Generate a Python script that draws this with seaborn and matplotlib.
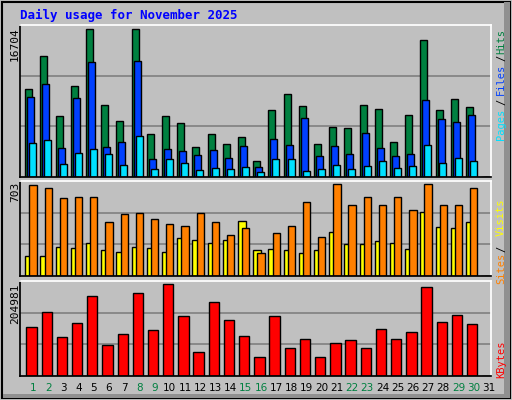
import numpy as np
import pandas as pd
import matplotlib.pyplot as plt
import seaborn as sns
from matplotlib.patches import Rectangle

sns.set_theme(style="white")
plt.rcParams['font.family'] = ['DejaVu Sans Mono', 'DejaVu Sans']

days = list(range(1, 32))
hits = [10014, 13642, 6953, 10354, 16704, 8200, 6387, 16704, 4913, 6953, 6160, 3439, 4913, 3779, 4573, 1852,
        7634, 9448, 8087, 3779, 5706, 5593, 8200, 7747, 4006, 7067, 15456, 7634, 8881, 7974, 0]
files = [9107, 10581, 3326, 8994, 12962, 3439, 4006, 13075, 2078, 3212, 2985, 2532, 3099, 2192, 3552, 1171,
         4346, 3666, 6727, 2419, 3552, 2645, 5026, 3326, 2419, 2645, 8767, 6613, 6273, 7067, 0]
pages = [3892, 4232, 1512, 2759, 3212, 2645, 1398, 4686, 945, 2078, 1625, 831, 1058, 945, 1171, 605,
         2078, 2078, 718, 945, 1398, 945, 1285, 1852, 1058, 1285, 3666, 1625, 2192, 1852, 0]
sites = [695, 672, 596, 604, 604, 413, 474, 481, 436, 397, 382, 481, 413, 313, 367, 176,
         329, 382, 565, 298, 703, 543, 604, 543, 604, 504, 703, 543, 543, 672, 0]
visits = [153, 153, 222, 214, 252, 199, 183, 222, 214, 183, 290, 275, 252, 275, 420, 199,
          206, 199, 176, 199, 336, 245, 245, 267, 252, 206, 489, 374, 367, 413, 0]
kbytes = [108115, 141901, 85591, 117125, 177940, 69824, 92348, 184697, 101358, 204981, 132892, 54058,
          164425, 123882, 87844, 42796, 132892, 63067, 83339, 42796, 74329, 81086, 63067, 103610,
          83339, 96853, 198211, 119377, 135144, 114872, 0]
weekend = [1, 2, 8, 9, 15, 16, 22, 23, 29, 30]

BG = "#C0C0C0"
fig = plt.figure(figsize=(5.12, 4.0), dpi=100, facecolor=BG)
fig.patches.append(Rectangle((0.004, 0.004), 0.992, 0.992, transform=fig.transFigure,
                             fill=False, edgecolor="black", linewidth=1.5))
fig.patches.append(Rectangle((0.985, 0.006), 0.012, 0.99, transform=fig.transFigure,
                             facecolor="#909090", edgecolor="none"))
fig.patches.append(Rectangle((0.006, 0.004), 0.99, 0.012, transform=fig.transFigure,
                             facecolor="#909090", edgecolor="none"))

d = np.array(days, dtype=float)


def panel(rect, series, ymax):
    ax = fig.add_axes(rect)
    ax.set_facecolor(BG)
    for vals, off, w, col in series:
        sns.barplot(x=d + off, y=vals, native_scale=True, width=w, color=col,
                    edgecolor="black", linewidth=1, saturation=1, ax=ax)
    top = ymax * 1.03
    ax.set_xlim(0.5, 31.5)
    ax.set_ylim(0, top)
    for f in (1 / 3, 2 / 3):
        ax.axhline(top * f, color="#808080", linewidth=1.2, zorder=0)
    ax.set_xticks([])
    ax.set_yticks([])
    ax.set_xlabel("")
    ax.set_ylabel("")
    for s in ("left", "bottom"):
        ax.spines[s].set_color("black")
    for s in ("top", "right"):
        ax.spines[s].set_color("white")
    return ax


ax1 = panel([0.039, 0.5575, 0.92, 0.38],
            [(hits, 0.08, 0.46, "#008040"), (files, 0.21, 0.46, "#0040FF"), (pages, 0.34, 0.46, "#00E0FF")],
            max(hits))
ax2 = panel([0.039, 0.31, 0.92, 0.2375],
            [(visits, 0.11, 0.52, "#FFFF00"), (sites, 0.36, 0.48, "#FF8000")],
            max(sites))
ax3 = panel([0.039, 0.06, 0.92, 0.2375],
            [(kbytes, 0.26, 0.68, "#FF0000")],
            max(kbytes))

fig.text(20 / 512, 1 - 15 / 400, "Daily usage for November 2025", color="#0000FF",
         fontsize=9, fontweight="bold", va="center", ha="left")

for txt, ytop in ((str(max(hits)), 27), (str(max(sites)), 182), (str(max(kbytes)), 283)):
    fig.text(15 / 512, 1 - ytop / 400, txt, rotation=90, fontsize=8, ha="center", va="top", color="black")

right = [("Pages", 124, "#00E0FF"), ("/", 102, "black"), ("Files", 79, "#0040FF"),
         ("/", 58, "black"), ("Hits", 41, "#008040"),
         ("Sites", 268, "#FF8000"), ("/", 249, "black"), ("Visits", 217, "#FFFF00"),
         ("KBytes", 359, "#FF0000")]
for txt, yc, col in right:
    fig.text(501 / 512, 1 - yc / 400, txt, rotation=90, fontsize=7.5, ha="center", va="center", color=col)

for day in days:
    col = "#008040" if day in weekend else "black"
    fig.text((20 + (day - 0.5 + 0.36) * 471 / 31) / 512, 1 - 388 / 400, str(day), fontsize=7.5,
             ha="center", va="center", color=col, family="DejaVu Sans")

fig.savefig("out.png", dpi=100, facecolor=BG)
